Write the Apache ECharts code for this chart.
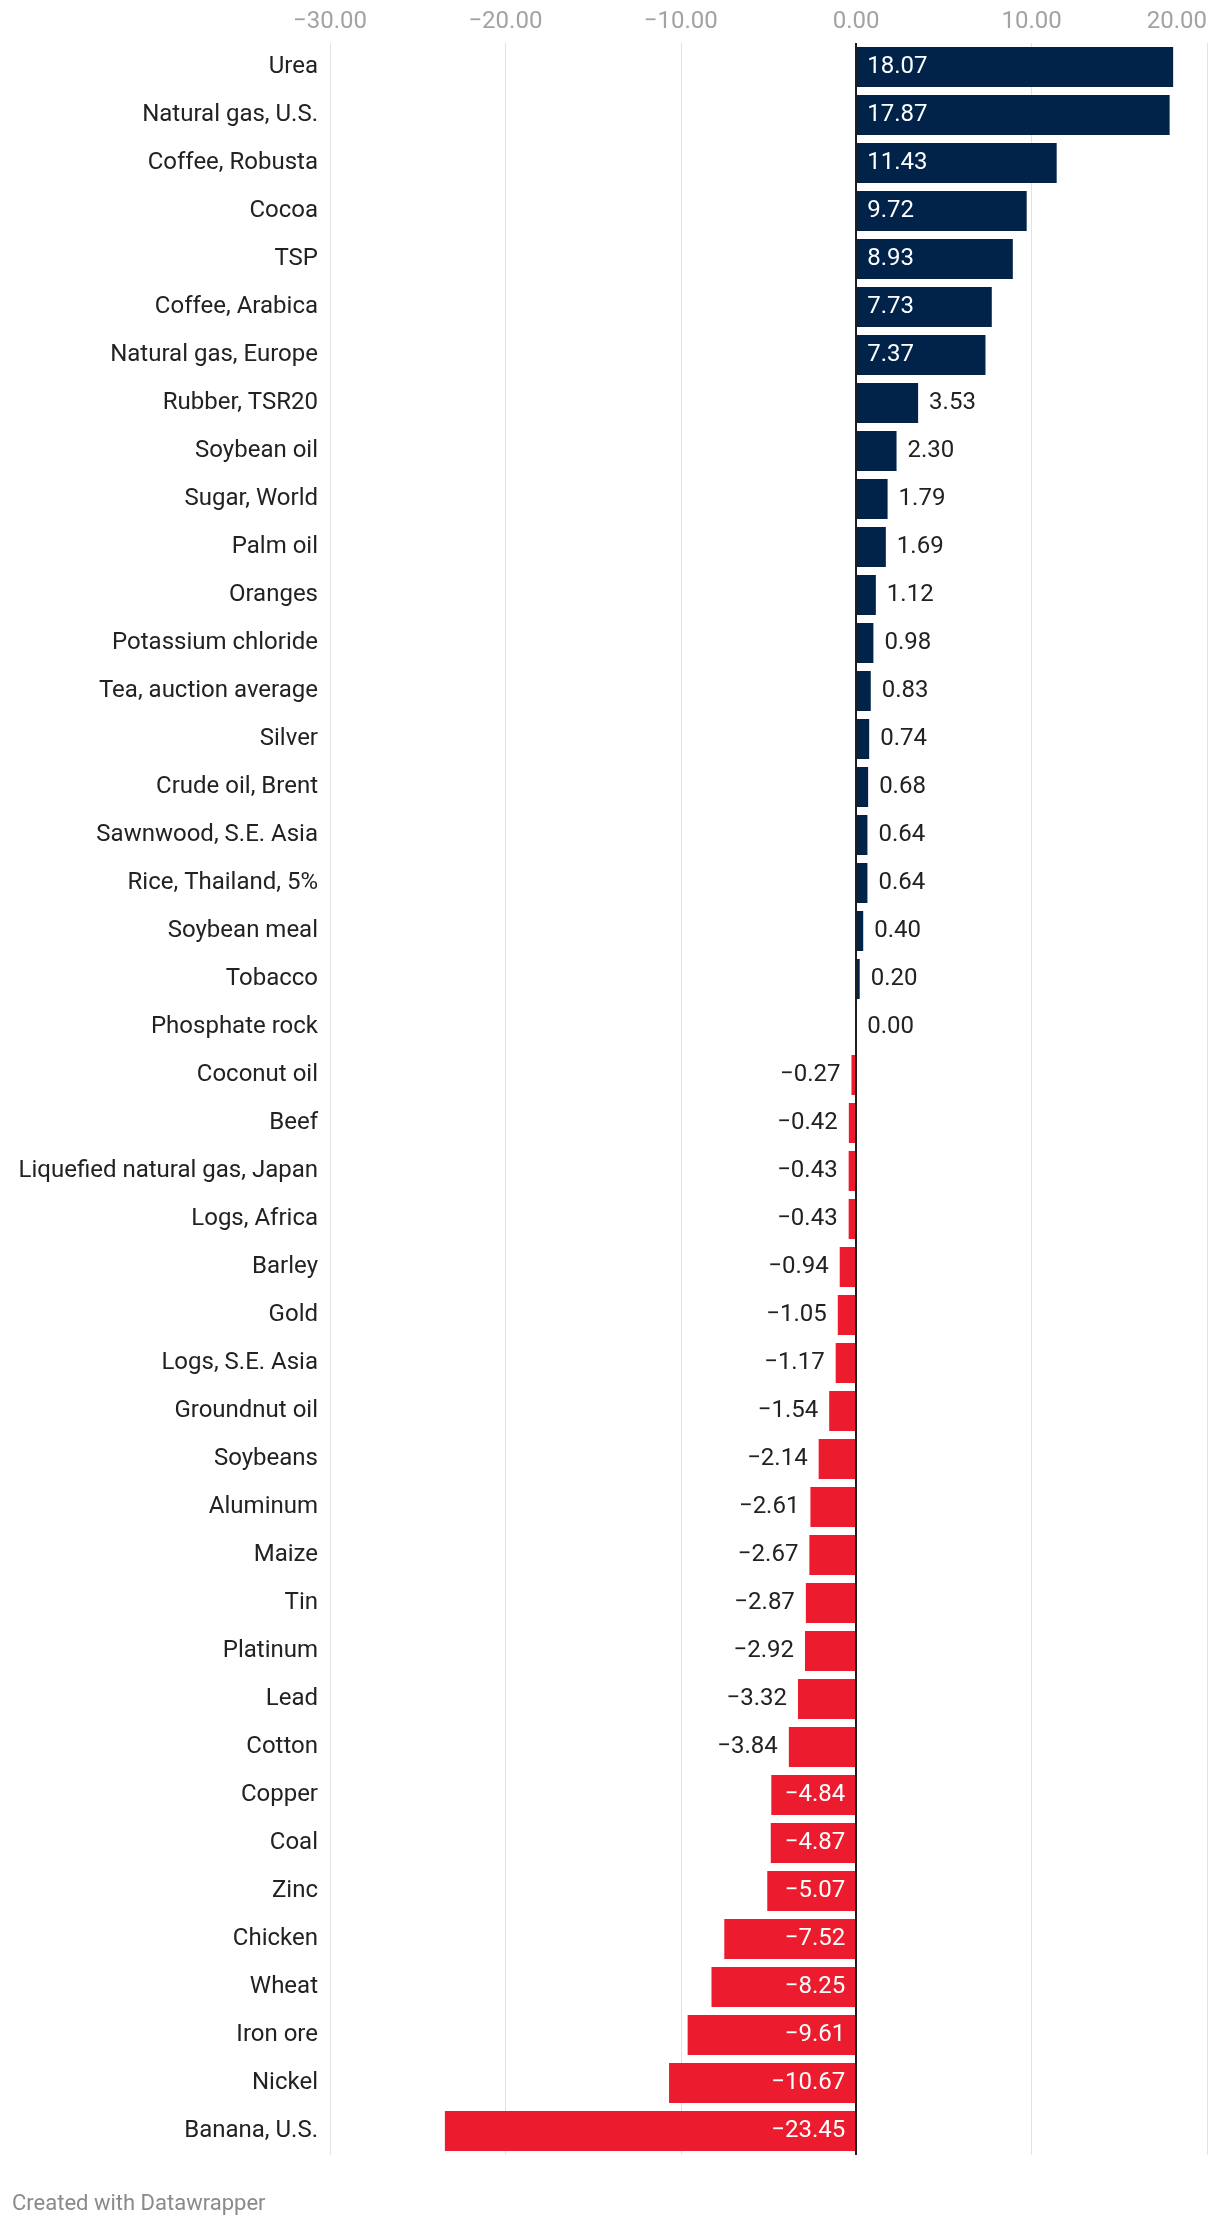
<!DOCTYPE html>
<html>
<head>
<meta charset="utf-8">
<script src="https://cdn.jsdelivr.net/npm/echarts@6/dist/echarts.min.js"></script>
<style>
  html, body { margin: 0; padding: 0; background: #fff; }
  #chart { width: 1220px; height: 2226px; }
</style>
</head>
<body>
<div id="chart"></div>
<script>
const categories = [
  "Urea", "Natural gas, U.S.", "Coffee, Robusta", "Cocoa", "TSP", "Coffee, Arabica",
  "Natural gas, Europe", "Rubber, TSR20", "Soybean oil", "Sugar, World", "Palm oil",
  "Oranges", "Potassium chloride", "Tea, auction average", "Silver", "Crude oil, Brent",
  "Sawnwood, S.E. Asia", "Rice, Thailand, 5%", "Soybean meal", "Tobacco", "Phosphate rock",
  "Coconut oil", "Beef", "Liquefied natural gas, Japan", "Logs, Africa", "Barley", "Gold",
  "Logs, S.E. Asia", "Groundnut oil", "Soybeans", "Aluminum", "Maize", "Tin", "Platinum",
  "Lead", "Cotton", "Copper", "Coal", "Zinc", "Chicken", "Wheat", "Iron ore", "Nickel",
  "Banana, U.S."
];
const values = [
  18.07, 17.87, 11.43, 9.72, 8.93, 7.73, 7.37, 3.53, 2.30, 1.79, 1.69, 1.12, 0.98, 0.83,
  0.74, 0.68, 0.64, 0.64, 0.40, 0.20, 0.00, -0.27, -0.42, -0.43, -0.43, -0.94, -1.05,
  -1.17, -1.54, -2.14, -2.61, -2.67, -2.87, -2.92, -3.32, -3.84, -4.84, -4.87, -5.07,
  -7.52, -8.25, -9.61, -10.67, -23.45
];
const xTicks = [-30, -20, -10, 0, 10, 20];

const NAVY = '#01234a';
const RED = '#ec1c2e';
const FONT = 'Roboto, "Noto Sans", sans-serif';
const fmt = v => (v < 0 ? '\u2212' : '') + Math.abs(v).toFixed(2);

const seriesData = values.map(v => {
  const inside = Math.abs(v) >= 4.5;
  let pos;
  if (v >= 0) pos = inside ? 'insideLeft' : 'right';
  else pos = inside ? 'insideRight' : 'left';
  return {
    value: v,
    itemStyle: { color: v >= 0 ? NAVY : RED },
    label: {
      show: true,
      position: pos,
      distance: 11,
      color: inside ? '#ffffff' : '#222222',
      fontFamily: FONT,
      fontSize: 24,
      formatter: p => fmt(p.value)
    }
  };
});

const chart = echarts.init(document.getElementById('chart'), null, { renderer: 'canvas' });
chart.setOption({
  animation: false,
  backgroundColor: '#ffffff',
  grid: { left: 330, right: 13, top: 43, height: 2112, containLabel: false },
  xAxis: {
    type: 'value',
    position: 'top',
    min: xTicks[0],
    max: xTicks[xTicks.length - 1],
    interval: 10,
    axisLine: { show: false },
    axisTick: { show: false },
    splitLine: { show: true, lineStyle: { color: '#e2e2e2', width: 1 } },
    axisLabel: {
      color: '#a3a3a3',
      fontFamily: FONT,
      fontSize: 24,
      margin: 9,
      alignMaxLabel: 'right',
      formatter: v => fmt(v)
    }
  },
  yAxis: {
    type: 'category',
    data: categories,
    inverse: true,
    axisLine: { show: false },
    axisTick: { show: false },
    splitLine: { show: false },
    axisLabel: {
      color: '#222222',
      fontFamily: FONT,
      fontSize: 24,
      margin: 12
    }
  },
  series: [{
    type: 'bar',
    data: seriesData,
    barWidth: 40,
    markLine: {
      silent: true,
      symbol: 'none',
      label: { show: false },
      lineStyle: { color: '#1e1e1e', width: 2, type: 'solid' },
      data: [{ xAxis: 0 }]
    }
  }],
  graphic: [{
    type: 'text',
    left: 12,
    top: 2193,
    style: {
      text: 'Created with Datawrapper',
      fill: '#8a8a8a',
      font: '22px ' + FONT
    }
  }]
});
</script>
</body>
</html>
